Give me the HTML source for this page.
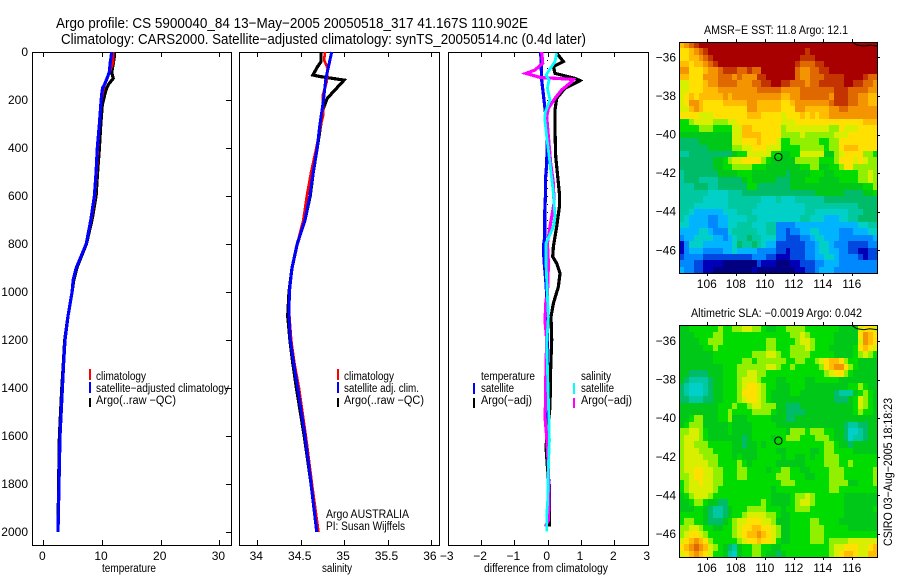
<!DOCTYPE html>
<html lang="en">
<head>
<meta charset="utf-8">
<title>Argo profile chart</title>
<style>
html,body{margin:0;padding:0;background:#fff;}
svg{display:block;}
text{font-family:"Liberation Sans",sans-serif;fill:#000;font-size:12px;}
.title{font-size:14.5px;}
.small{font-size:11.5px;}
.mid{text-anchor:middle;}
.end{text-anchor:end;}
</style>
</head>
<body>
<svg id="chart" xmlns="http://www.w3.org/2000/svg" width="900" height="580" viewBox="0 0 900 580">
<rect x="0" y="0" width="900" height="580" fill="#fff"/>
<text class="title" x="56" y="28" textLength="472" lengthAdjust="spacingAndGlyphs">Argo profile: CS 5900040_84 13−May−2005 20050518_317 41.167S 110.902E</text>
<text class="title" x="61" y="44" textLength="525" lengthAdjust="spacingAndGlyphs">Climatology: CARS2000. Satellite−adjusted climatology: synTS_20050514.nc (0.4d later)</text>

<g id="maps"></g>
<g id="plots"></g>

<text class="small" x="102" y="572" textLength="54" lengthAdjust="spacingAndGlyphs">temperature</text>
<text class="small" x="322" y="572" textLength="30" lengthAdjust="spacingAndGlyphs">salinity</text>
<text class="small" x="484" y="572" textLength="124" lengthAdjust="spacingAndGlyphs">difference from climatology</text>

<g>
<rect x="89" y="369" width="2" height="11" fill="#ff0000"/>
<rect x="89" y="382" width="2" height="11" fill="#0000ff"/>
<rect x="89" y="398" width="2" height="9" fill="#000"/>
<text class="small" x="96" y="380" textLength="50" lengthAdjust="spacingAndGlyphs">climatology</text>
<text class="small" x="96" y="392" textLength="133" lengthAdjust="spacingAndGlyphs">satellite−adjusted climatology</text>
<text class="small" x="96" y="404" textLength="80" lengthAdjust="spacingAndGlyphs">Argo(..raw −QC)</text>
</g>

<g>
<rect x="337" y="369" width="2" height="11" fill="#ff0000"/>
<rect x="337" y="382" width="2" height="11" fill="#0000ff"/>
<rect x="337" y="398" width="2" height="9" fill="#000"/>
<text class="small" x="344" y="380" textLength="50" lengthAdjust="spacingAndGlyphs">climatology</text>
<text class="small" x="344" y="392" textLength="75" lengthAdjust="spacingAndGlyphs">satellite adj. clim.</text>
<text class="small" x="344" y="404" textLength="80" lengthAdjust="spacingAndGlyphs">Argo(..raw −QC)</text>
<text class="small" x="326" y="518" textLength="83" lengthAdjust="spacingAndGlyphs">Argo AUSTRALIA</text>
<text class="small" x="326" y="530" textLength="79" lengthAdjust="spacingAndGlyphs">PI: Susan Wijffels</text>
</g>

<g>
<rect x="473" y="383" width="2" height="11" fill="#0000ff"/>
<rect x="473" y="398" width="2" height="10" fill="#000"/>
<text class="small" x="481" y="380" textLength="54" lengthAdjust="spacingAndGlyphs">temperature</text>
<text class="small" x="481" y="392" textLength="33" lengthAdjust="spacingAndGlyphs">satellite</text>
<text class="small" x="481" y="404" textLength="51" lengthAdjust="spacingAndGlyphs">Argo(−adj)</text>
<rect x="573" y="383" width="2" height="11" fill="#00ffff"/>
<rect x="573" y="398" width="2" height="10" fill="#ff00ff"/>
<text class="small" x="581" y="380" textLength="30" lengthAdjust="spacingAndGlyphs">salinity</text>
<text class="small" x="581" y="392" textLength="33" lengthAdjust="spacingAndGlyphs">satellite</text>
<text class="small" x="581" y="404" textLength="51" lengthAdjust="spacingAndGlyphs">Argo(−adj)</text>
</g>

<text class="small" x="704" y="34" textLength="144" lengthAdjust="spacingAndGlyphs">AMSR−E SST: 11.8 Argo: 12.1</text>
<text class="small" x="691" y="317" textLength="171" lengthAdjust="spacingAndGlyphs">Altimetric SLA: −0.0019 Argo: 0.042</text>
<text class="small" transform="translate(892,546) rotate(-90)" x="0" y="0" textLength="148" lengthAdjust="spacingAndGlyphs">CSIRO 03−Aug−2005 18:18:23</text>
</svg>

<script>
// ---- axis data ----
const depthTicks = [0,200,400,600,800,1000,1200,1400,1600,1800,2000];
const temperatureTicks = [0,10,20,30];
const salinityTicks = [34,34.5,35,35.5,36];
const differenceTicks = [-3,-2,-1,0,1,2,3];
const lonTicks = [106,108,110,112,114,116];
const latTicksSst = [-36,-38,-40,-42,-44,-46];
const latTicksSla = [-36,-38,-40,-42,-44,-46];

// ---- temperature panel ----
const tempDepth = [0,20,45,85,110,135,150,175,220,300,400,500,600,700,800,900,950,1000,1100,1200,1300,1400,1600,1800,2000];
const tempArgo = [12.1,12.1,11.95,11.65,11.9,11.1,10.8,10.5,10.05,9.8,9.55,9.25,9.0,8.3,7.35,5.7,5.2,4.9,4.2,3.65,3.4,3.15,2.75,2.6,2.5];
const tempClim = [11.9,11.9,11.9,11.3,10.9,10.5,10.3,10.1,9.8,9.6,9.3,9.1,8.8,8.2,7.35,5.6,5.1,4.9,4.2,3.7,3.45,3.25,2.85,2.67,2.5];
const tempSat = [11.65,11.55,11.4,11.25,10.85,10.45,10.1,9.95,9.8,9.55,9.2,9.0,8.7,8.1,7.3,5.6,5.1,4.9,4.2,3.7,3.45,3.25,2.85,2.67,2.5];

// ---- salinity panel ----
const salArgoDepth = [0,40,61,96,102,117,193,235,304,400,500,600,700,800,900,1000,1100,1200,1300,1400,1600,1800,2000];
const salArgo = [34.734,34.734,34.695,34.64,34.72,35.0,34.806,34.76,34.73,34.69,34.645,34.61,34.55,34.46,34.4,34.365,34.35,34.375,34.41,34.45,34.54,34.62,34.685];
const salClimDepth = [0,33,68,124,180,263,304,400,500,600,700,800,900,1000,1100,1200,1300,1400,1600,1800,2000];
const salClim = [34.78,34.77,34.81,34.8,34.755,34.76,34.73,34.68,34.62,34.57,34.53,34.46,34.4,34.37,34.37,34.39,34.43,34.48,34.56,34.63,34.705];
const salSatDepth = [0,110,207,304,400,500,600,700,800,900,1000,1100,1200,1300,1400,1600,1800,2000];
const salSat = [34.857,34.79,34.76,34.72,34.69,34.645,34.605,34.55,34.46,34.4,34.37,34.365,34.38,34.42,34.465,34.55,34.62,34.685];

// ---- difference panel ----
const zeroDepth = [0,2000];
const zeroValue = [0,0];
const diffTempSatDepth = [0,117,200,272,353,464,534,603,672,770,811,867,964,1061,1200,1450,1650,1800,1978];
const diffTempSat = [-.21,-.18,-.11,-.05,-.01,-.03,-.07,-.07,-.09,-.09,-.13,-.11,-.05,-.01,-.01,0,.01,.02,.02];
const diffTempArgoDepth = [5,40,61,89,110,119,151,193,242,325,436,506,589,644,728,811,853,881,922,978,1047,1103,1200,1311,1478,1644,1728,1811,1978];
const diffTempArgo = [.27,.47,.17,.22,.82,.97,.52,.27,.22,.22,.24,.29,.35,.35,.27,.17,.15,.27,.37,.32,.17,.10,.12,.09,.07,-.05,-.01,.05,.05];
const diffSalArgoDepth = [0,47,75,89,106,114,124,158,193,235,269,353,464,547,631,728,797,881,1019,1033,1117,1200,1311,1478,1520,1603,1728,1867,1950,1978];
const diffSalArgo = [-.18,-.15,-.38,-.65,-.23,.77,.72,.42,.22,.02,-.03,.02,.09,.17,.19,.07,-.01,.02,-.01,-.05,-.08,-.03,-.05,-.07,-.08,-.03,.02,.04,.02,-.07];
const diffSalSatDepth = [5,40,96,117,151,200,249,276,353,464,589,686,728,797,881,1019,1103,1214,1311,1450,1617,1728,1867,1936,1998];
const diffSalSat = [.27,.22,-.05,.04,-.01,.07,-.07,-.09,-.03,.07,.17,.22,.17,-.05,-.05,-.01,.02,-.03,-.01,.02,.05,.02,0,-.03,-.03];

// ---- map data: one character per grid cell, indexes into mapPalette ----
const mapPalette = {
  '0':'#000080','1':'#0000b8','2':'#0048e0','3':'#0088ff','4':'#00b4ff','5':'#00d0c8','6':'#00c8a0','7':'#00bc68','8':'#00c818','9':'#00dc00',
  'A':'#90f000','B':'#d8f000','C':'#ffe000','D':'#ffbc00','E':'#f49400','F':'#e06800','G':'#c43400','H':'#a80000'
};
const sstRows = [
"DEFGHHHHHH HHHHHHHHHH HHHHHHHHHH HHHHHHHHHHH",
"CCDEFGHHHH HHHHHHHHHH HHHHHHGHHH HHHHHHHHHHH",
"CCDDEFGHHH HHHHHHHHHH HHHHHGGGHH HHHHHHHHHHH",
"DDCDDEFGHH HHHHHHHHHH HHHHGFFFGG HHHHHHHHHHH",
"EECCCDEEFG GGFFGFFHHH HHHHFEEFFG GHHHHHHHHHH",
"DDCCCEEEFF FEFEEEGGHH HHHHFEEFFF GGGGHHHHGFF",
"BBCCCDEEFF FFEEEFFGGH HGGFFFEFFG GGGGHHGGFFE",
"BBCCCDDDEE EEEEEEFFFF FEEEEFFFFF FFGGGFFFFEE",
"BCDCDDDDDE DEEEEEEEEE EDDEEFFFFF FEGGGFFEEDD",
"BCEEDCCCCD DDDDEEDDDD DCCDEEEEEE EFGGGFFEEDD",
"BBDEDCCCCC CCCCEEDDDD DCCCEEDDDD DEEFFEEEEEE",
"CCCCBBBCCC CCCCDDDCCC CBCCCDCDCD DEEEEEEEEEE",
"99ABBBBAAA BBCCCCCCCC CBBBCCCCCC CCCCCCCCDDD",
"9999AAA999 9BBDDCCCCC CABBBBBBBB BAACBBBCCCC",
"8888888888 8BBDDDDCCC CAAAABAAAA AABBBCCCCCC",
"7777888888 8BBCCCDCCC B99AAAAAA9 9AACCCCCCCC",
"7777778888 8AABBCCCBB B9999AAAAA 9AACDDDCCCC",
"6677777777 7899BBBBB9 98899BBBBB 88ABCCCCAA9",
"7777777889 ABBCCCCA98 8888AAAAA9 99ACCCBCBAA",
"7777777889 9AAAA99988 8888899AA8 899ACCAAAAA",
"6777777788 8899988888 8878888999 8899999AABA",
"6777666677 7778988888 7778889998 8889999AABA",
"6667776677 7777997777 7778888888 88888888 99A",
"6666665555 6667777777 7777777788 88887777889",
"6666655555 6666666555 6555666666 77777777777",
"6665555555 6666665555 5555556666 66666667777",
"6654444445 5566655555 5555556655 55555666777",
"6544443344 5555665555 5555566555 44455667777",
"5544443344 5566655566 3333444444 44444445566",
"4444554333 5666665566 3323344554 44433344455",
"3445555443 4566766555 3322233455 44433333334",
"1355544444 4576676544 2222223345 54333222233",
"1344433334 4544443333 2212223345 54433221122",
"2333322222 2222233322 1112223344 55433332122",
"3332211110 0000002111 0001122233 44433333333",
"4332211000 0000010000 0000112234 44333333333"
];
const slaRows = [
"88999999A9 9AABBAA988 99AAAA9999 9998888BCCB",
"8889999AA9 9999999999 999AABA999 9988888CEDC",
"888899AAA9 99999999AA 9999ABBA99 9988888BEDC",
"8888899A99 99999999AA 999AAABA99 9888889CDCB",
"8888888999 99999AAABB A99AAAA999 9988889ABA9",
"8888888999 999AA9AAAA AA99AA99AB CDDCA998888",
"8888888889 99AAAAAABB A99A99999A CDEECA98888",
"8877778889 99AABBAA99 9999999999 ABCCA988888",
"8766667889 99ABBBA999 8899998899 99988888888",
"7655567889 99ABCCBA99 8889998888 8888899A988",
"7655567889 99ACCCBA98 8889988888 88766689A98",
"7766677889 99ABCCBA98 8888888888 8877789BA98",
"8888888899 9A99ABBAAA 8877788888 8888889BA98",
"8888888899 A9999AAAA9 8877778888 8888889A998",
"889AA88899 A888999998 8877888888 88888888888",
"89AAA88888 9888899999 8888888888 88887667788",
"AABBA98888 9888899999 998AAA9AAA 99887556788",
"ABBBA98888 8887899998 99AAA999AA A9887566788",
"ABBAAA9999 9887889899 9999999999 AA988788888",
"ABBBAAA999 9888889999 8899999889 AA999988888",
"ABBBBAAA99 9898889999 9899889899 AAA99999999",
"ABBBBBAA99 99A9899999 8888889999 AAA99A99999",
"ABBCCBBAA9 99AA999989 9AA9988999 9AAA999999A",
"AABCCBBAA9 99AA999999 AAA9998899 9AAA999999A",
"9ABBCBBAA9 9999999999 9AAA999999 9AAAA88999A",
"9ABBBBBA99 9999999998 9999999999 9AA99999999",
"89ABBBA999 9999999998 8889AABA99 99998888888",
"889AA98877 9999999A98 8889ABBA99 99998888888",
"8889987667 8999AAAA99 9899AAA999 99998888889",
"9999987667 899ABBBBAA 9889999999 99998888888",
"9AA9987778 9ABBCCCBBA 8889999AA9 99988888888",
"AABBA99889 9ABCCDDCCB A889999AAA 99999888888",
"ABCCBA9999 9ABCDDEDCB A889999AAA 99999999999",
"BCDEDCA999 99ABCCDCCB 9889999AAA 9AAAABBBBBB",
"CDEFEDBA98 76899AA998 8999999999 9ABBCCCBBCD",
"BCDEDCB998 65899AA988 7899999999 9ABCDDCBBDD"
];
const coastLon = [116.0,116.3,116.8,117.2,117.75];
const coastLat = [-35.2,-35.36,-35.42,-35.37,-35.42];
const floatLon = [110.902];
const floatLat = [-41.167];

// ---- drawing ----
const NS = 'http://www.w3.org/2000/svg';
const plots = document.getElementById('plots');
const maps = document.getElementById('maps');

function mk(parent, tag, attrs, txt){
  const el = document.createElementNS(NS, tag);
  for (const k in attrs) el.setAttribute(k, attrs[k]);
  if (txt !== undefined) el.textContent = txt;
  parent.appendChild(el);
  return el;
}
function label(v){ return String(v).replace('-', '\u2212'); }
const yDepth = d => 52 + 0.24 * d;

const panels = [
  {name:'temperature', left:32, right:231, ticks:temperatureTicks, x:v => 43.3 + 5.87 * v, rightTicks:true},
  {name:'salinity', left:239, right:439, ticks:salinityTicks, x:v => 257.3 + 86.8 * (v - 34), rightTicks:false},
  {name:'difference', left:448, right:648, ticks:differenceTicks, x:v => 547.7 + 33.33 * v, rightTicks:false}
];
const top0 = 52, bot0 = 545;

function drawSeries(panel, name, depths, values, color, width, dash){
  const pts = depths.map((d,i) => panel.x(values[i]).toFixed(1) + ',' + yDepth(d).toFixed(1)).join(' ');
  const el = mk(plots, 'polyline', {points:pts, fill:'none', stroke:color, 'stroke-width':width, 'stroke-linejoin':'miter', 'shape-rendering':'crispEdges'});
  if (dash) el.setAttribute('stroke-dasharray', dash);
  
  
}

panels.forEach(p => {
  const frame = mk(plots, 'rect', {x:p.left+.5, y:top0+.5, width:p.right-p.left, height:bot0-top0, fill:'none', stroke:'#000', 'stroke-width':1, 'shape-rendering':'crispEdges'});
  
  
  p.ticks.forEach(v => {
    const x = Math.round(p.x(v)) + .5;
    const a = mk(plots, 'line', {x1:x, x2:x, y1:top0, y2:top0+5, stroke:'#000', 'shape-rendering':'crispEdges'});
    
    
    const b = mk(plots, 'line', {x1:x, x2:x, y1:bot0, y2:bot0-5, stroke:'#000', 'shape-rendering':'crispEdges'});
    
    
    const t = mk(plots, 'text', {x:p.x(v)-1, y:560, 'class':'mid'}, label(v));
    
    
  });
});

depthTicks.forEach(d => {
  const y = Math.round(yDepth(d)) + .5;
  const k = mk(plots, 'line', {x1:226, x2:232, y1:y, y2:y, stroke:'#000', 'shape-rendering':'crispEdges'});
  
  
  const t = mk(plots, 'text', {x:28, y:yDepth(d)+4, 'class':'end'}, label(d));
  
  
});

drawSeries(panels[0], 'temperature-argo-line', tempDepth, tempArgo, '#000', 3.2);
drawSeries(panels[0], 'temperature-climatology-line', tempDepth, tempClim, '#ff0000', 2.4);
drawSeries(panels[0], 'temperature-satellite-line', tempDepth, tempSat, '#0000ff', 3.2);

drawSeries(panels[1], 'salinity-argo-line', salArgoDepth, salArgo, '#000', 3.2);
drawSeries(panels[1], 'salinity-climatology-line', salClimDepth, salClim, '#ff0000', 2.6);
drawSeries(panels[1], 'salinity-satellite-line', salSatDepth, salSat, '#0000ff', 3);

drawSeries(panels[2], 'zero-difference-line', zeroDepth, zeroValue, '#000', 1, '1 7');
drawSeries(panels[2], 'temperature-satellite-difference-line', diffTempSatDepth, diffTempSat, '#0000ff', 3.2);
drawSeries(panels[2], 'temperature-argo-difference-line', diffTempArgoDepth, diffTempArgo, '#000', 3.2);
drawSeries(panels[2], 'salinity-argo-difference-line', diffSalArgoDepth, diffSalArgo, '#ff00ff', 3.2);
drawSeries(panels[2], 'salinity-satellite-difference-line', diffSalSatDepth, diffSalSat, '#00ffff', 2.8);

// maps
const mapLeft = 679, mapRight = 877;
const lonX = lon => 707.3 + (lon - 106) * 14.5;
const lon0 = 104.07, lat0 = -35.19, cellDeg = 1/3;

function drawMap(name, rows, top, bottom, lat36Y, latTicks, tickLabelY){
  const latY = lat => lat36Y + (-36 - lat) * 19.3;
  rows.forEach((row, r) => {
    const cells = row.replace(/ /g, '');
    for (let c = 0; c < cells.length; c++) {
      const x1 = Math.round(lonX(lon0 + c * cellDeg));
      const x2 = Math.min(mapRight, Math.round(lonX(lon0 + (c + 1) * cellDeg)));
      const y1 = Math.round(latY(lat0 - r * cellDeg));
      const y2 = Math.min(bottom, Math.round(latY(lat0 - (r + 1) * cellDeg)));
      const cell = mk(maps, 'rect', {x:x1, y:y1, width:x2-x1, height:y2-y1, fill:mapPalette[cells[c]], 'shape-rendering':'crispEdges'});
      
      
    }
  });
  const coast = mk(maps, 'polyline', {points:coastLon.map((v,i) => lonX(v).toFixed(1) + ',' + latY(coastLat[i]).toFixed(1)).join(' '), fill:'none', stroke:'#000', 'stroke-width':1});
  
  
  const marker = mk(maps, 'circle', {cx:lonX(floatLon[0]), cy:latY(floatLat[0]), r:3.7, fill:'none', stroke:'#000', 'stroke-width':1});
  
  
  const frame = mk(maps, 'rect', {x:mapLeft+.5, y:top+.5, width:mapRight-mapLeft, height:bottom-top, fill:'none', stroke:'#000', 'shape-rendering':'crispEdges'});
  
  
  lonTicks.forEach(v => {
    const x = Math.round(lonX(v)) + .5;
    const a = mk(maps, 'line', {x1:x, x2:x, y1:top-3, y2:top, stroke:'#000', 'shape-rendering':'crispEdges'});
    
    
    const b = mk(maps, 'line', {x1:x, x2:x, y1:bottom, y2:bottom+3, stroke:'#000', 'shape-rendering':'crispEdges'});
    
    
    const t = mk(maps, 'text', {x:lonX(v)-.5, y:tickLabelY, 'class':'mid'}, label(v));
    
    
  });
  latTicks.forEach(v => {
    const y = Math.round(latY(v)) + .5;
    const a = mk(maps, 'line', {x1:mapRight, x2:mapRight+3, y1:y, y2:y, stroke:'#000', 'shape-rendering':'crispEdges'});
    
    
    const t = mk(maps, 'text', {x:676, y:latY(v)+4, 'class':'end'}, label(v));
    
    
  });
}
drawMap('sst-map', sstRows, 42, 273, 57.3, latTicksSst, 288);
drawMap('sla-map', slaRows, 325, 557, 341, latTicksSla, 572);
</script>
</body>
</html>
